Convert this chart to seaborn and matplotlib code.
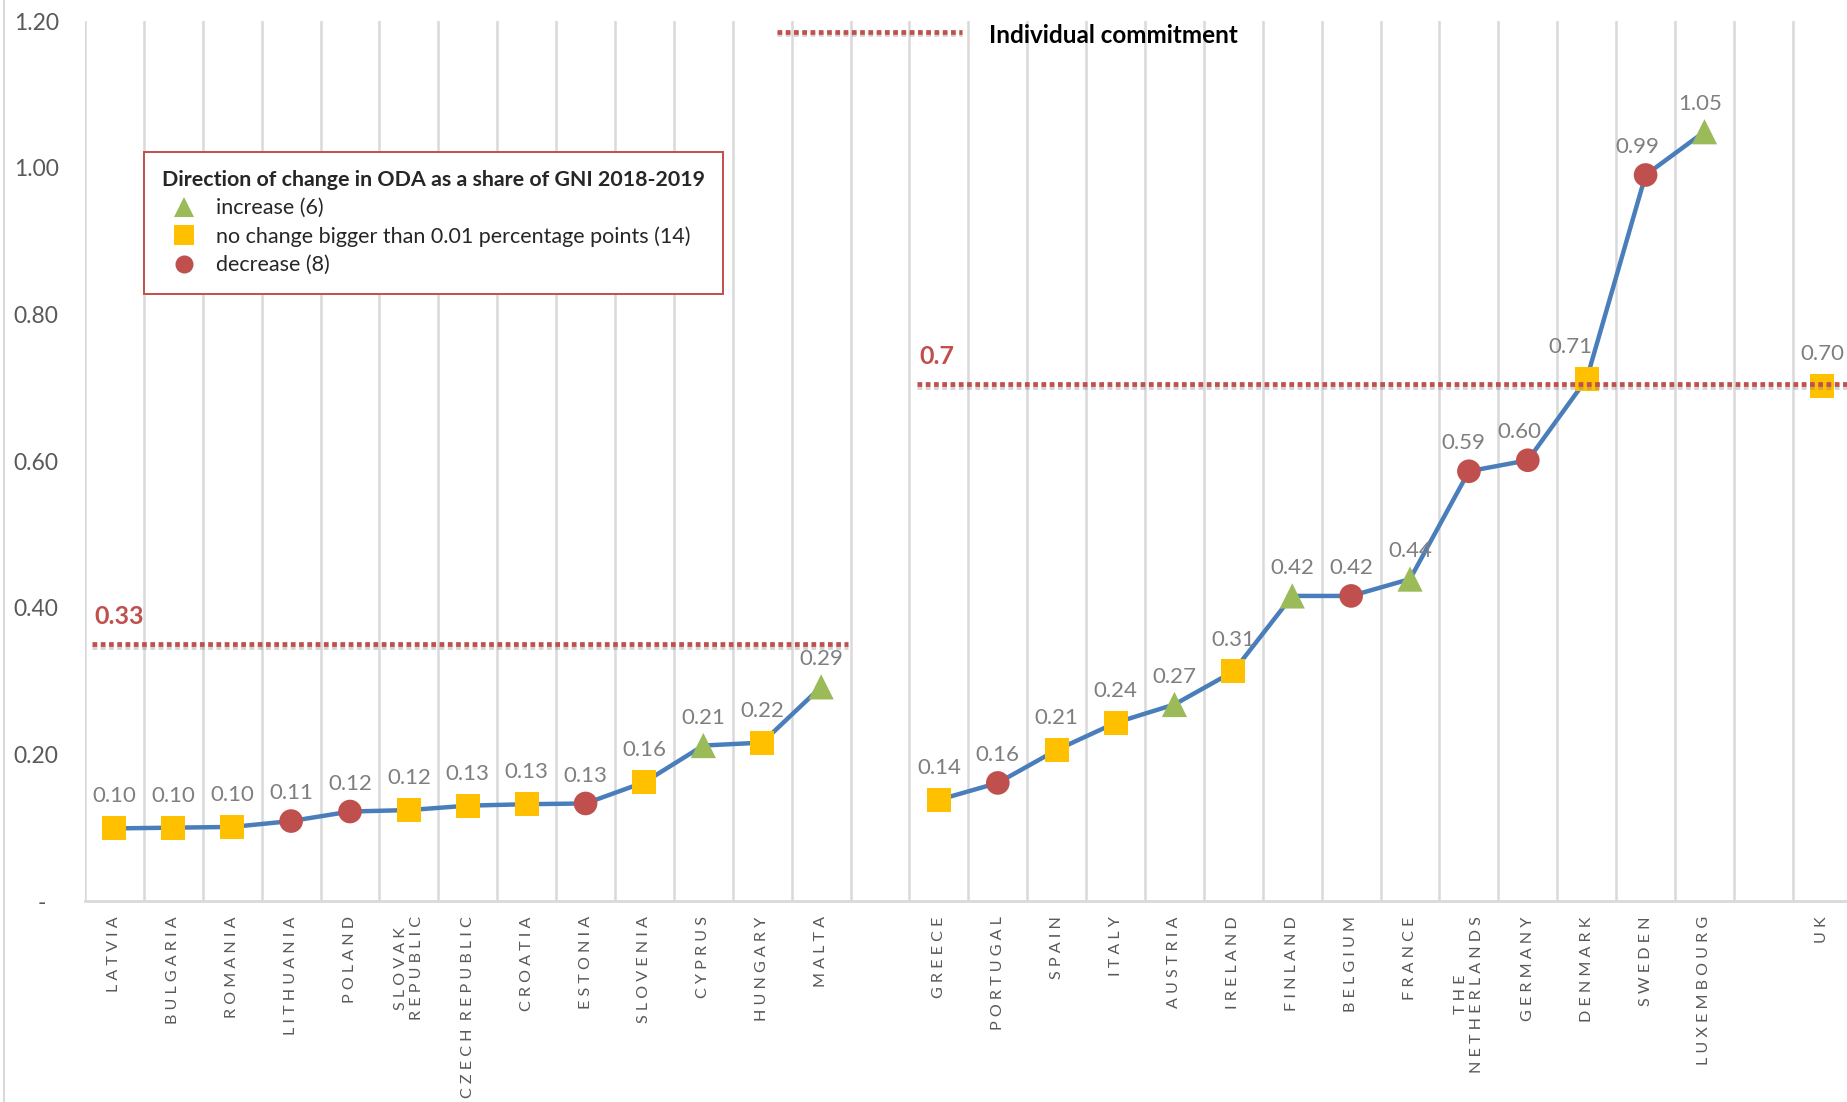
import numpy as np
import pandas as pd
import matplotlib.pyplot as plt
import matplotlib.patheffects as pe
from matplotlib.lines import Line2D
import seaborn as sns

# ODA as a share of GNI, 2019 (blank slots split the two groups and the UK)
countries = ['LATVIA', 'BULGARIA', 'ROMANIA', 'LITHUANIA', 'POLAND', 'SLOVAK\nREPUBLIC',
             'CZECH REPUBLIC', 'CROATIA', 'ESTONIA', 'SLOVENIA', 'CYPRUS', 'HUNGARY', 'MALTA',
             '',
             'GREECE', 'PORTUGAL', 'SPAIN', 'ITALY', 'AUSTRIA', 'IRELAND', 'FINLAND', 'BELGIUM',
             'FRANCE', 'THE\nNETHERLANDS', 'GERMANY', 'DENMARK', 'SWEDEN', 'LUXEMBOURG',
             '',
             'UK']
oda_gni = [0.099, 0.100, 0.101, 0.109, 0.122, 0.124, 0.130, 0.132, 0.133, 0.162, 0.212, 0.216, 0.292,
           np.nan,
           0.138, 0.161, 0.206, 0.243, 0.268, 0.313, 0.416, 0.416, 0.439, 0.586, 0.601, 0.712, 0.990, 1.049,
           np.nan,
           0.702]
change = ['same', 'same', 'same', 'down', 'down', 'same', 'same', 'same', 'down', 'same', 'up', 'same', 'up',
          None,
          'same', 'down', 'same', 'same', 'up', 'same', 'up', 'down', 'up', 'down', 'down', 'same', 'down', 'up',
          None,
          'same']
segment = [1] * 13 + [0] + [2] * 14 + [0] + [3]

# collective commitments: label text, drawn level, first and last slot
commit_text = ['0.33', '0.7']
commit_level = [0.35, 0.705]
commit_from = [0, 14]
commit_to = [12, 29]

legend_labels = {'up': 'increase (6)',
                 'same': 'no change bigger than 0.01 percentage points (14)',
                 'down': 'decrease (8)'}

# small sideways nudges of a few value labels (points)
label_dx = {'THE\nNETHERLANDS': -4, 'GERMANY': -6, 'DENMARK': -12, 'SWEDEN': -6, 'LUXEMBOURG': -3}

BLUE = '#4A7EBB'
RED = '#C0504D'
GREEN = '#9BBB59'
GOLD = '#FFC000'
GRID = '#D9D9D9'
TXT = '#7F7F7F'

sns.set_theme(style='white')
plt.rcParams['font.family'] = ['Lato', 'DejaVu Sans']

df = pd.DataFrame({'pos': range(len(countries)), 'country': countries,
                   'oda': oda_gni, 'change': change, 'segment': segment})
pts = df.dropna(subset=['oda'])

fig = plt.figure(figsize=(18.47, 11.02), dpi=100)
ax = fig.add_axes([85 / 1847, 1 - 901 / 1102, 1 - 85 / 1847, 880 / 1102])

sns.lineplot(data=pts, x='pos', y='oda', units='segment', estimator=None,
             color=BLUE, lw=3.2, ax=ax, legend=False, zorder=2)

marker_map = {'up': '^', 'same': 's', 'down': 'o'}
color_map = {'up': GREEN, 'same': GOLD, 'down': RED}
size_map = {'up': 330, 'same': 300, 'down': 290}
sns.scatterplot(data=pts, x='pos', y='oda', hue='change', style='change', size='change',
                markers=marker_map, palette=color_map, sizes=size_map,
                edgecolor='none', linewidth=0, ax=ax, legend=False, zorder=3)

for _, r in pts.iterrows():
    off = 23 if r['change'] == 'same' else 20
    ax.annotate(f"{r['oda']:.2f}", (r['pos'], r['oda']),
                xytext=(label_dx.get(r['country'], 0), off),
                textcoords='offset points', ha='center', va='center',
                fontsize=16, color=TXT, zorder=5)

shadow = [pe.SimpleLineShadow(offset=(0, -2), shadow_color='#808080', alpha=0.35), pe.Normal()]
for txt, lev, a, b in zip(commit_text, commit_level, commit_from, commit_to):
    x0, x1 = a - 0.38, b + 0.45
    ax.plot([x0, x1], [lev, lev], color=RED, lw=3.4, ls=(0, (1, 0.75)),
            solid_capstyle='butt', dash_capstyle='butt', zorder=4, path_effects=shadow)
    ax.annotate(txt, (x0, lev), xytext=(2, 20), textcoords='offset points',
                ha='left', va='center', fontsize=18, fontweight='bold', color=RED)

# "Individual commitment" key at the top
ax.plot([0.3927, 0.4977], [0.988, 0.988], transform=ax.transAxes, color=RED, lw=3.4,
        ls=(0, (1, 0.75)), dash_capstyle='butt', path_effects=shadow, clip_on=False)
ax.text(0.513, 0.983, 'Individual commitment', transform=ax.transAxes, ha='left', va='center',
        fontsize=17.5, fontweight='bold', color='black')

handles = [Line2D([], [], ls='none', marker=marker_map[k], color=color_map[k],
                  markersize=14 if k != 'down' else 13, markeredgewidth=0)
           for k in ['up', 'same', 'down']]
leg = ax.legend(handles, [legend_labels[k] for k in ['up', 'same', 'down']],
                title='Direction of change in ODA as a share of GNI 2018-2019',
                title_fontproperties={'weight': 'bold', 'size': 15.4},
                loc='upper left', bbox_to_anchor=(0.0333, 0.8514), borderaxespad=0,
                fontsize=15.5, alignment='left', fancybox=False, framealpha=1,
                edgecolor=RED, borderpad=0.85, labelspacing=0.38,
                handlelength=2.0, handletextpad=0.5)
leg.get_frame().set_linewidth(1.4)
for t in leg.get_texts():
    t.set_color('#262626')

ax.set_xlim(-0.5, 29.42)
ax.set_ylim(0, 1.2)
ax.set_yticks([0, 0.2, 0.4, 0.6, 0.8, 1.0, 1.2])
ax.set_yticklabels(['-  '] + [f'{v:.2f}' for v in [0.2, 0.4, 0.6, 0.8, 1.0, 1.2]])

# letter-spaced category names, as in the original layout
spaced = ['\n'.join('  '.join(' '.join(w) for w in line.split(' ')) for line in name.split('\n'))
          for name in countries]
ax.set_xticks(range(len(countries)))
ax.set_xticklabels(spaced, rotation=90)
ax.set_xticks(np.arange(-0.5, len(countries) - 0.5, 1), minor=True)
ax.xaxis.grid(True, which='minor', color=GRID, lw=1.8)
ax.yaxis.grid(False)
ax.tick_params(axis='x', which='both', length=0, pad=11, labelsize=11.6, labelcolor='#595959')
ax.tick_params(axis='y', length=0, pad=19, labelsize=16.5, labelcolor='#595959')
ax.set_xlabel('')
ax.set_ylabel('')
for s in ['top', 'right', 'left']:
    ax.spines[s].set_visible(False)
ax.spines['bottom'].set_color(GRID)
ax.spines['bottom'].set_linewidth(2)

fig.add_artist(Line2D([0.002, 0.002], [0, 1], color=GRID, lw=1.5))

fig.savefig('out.png', dpi=100)
